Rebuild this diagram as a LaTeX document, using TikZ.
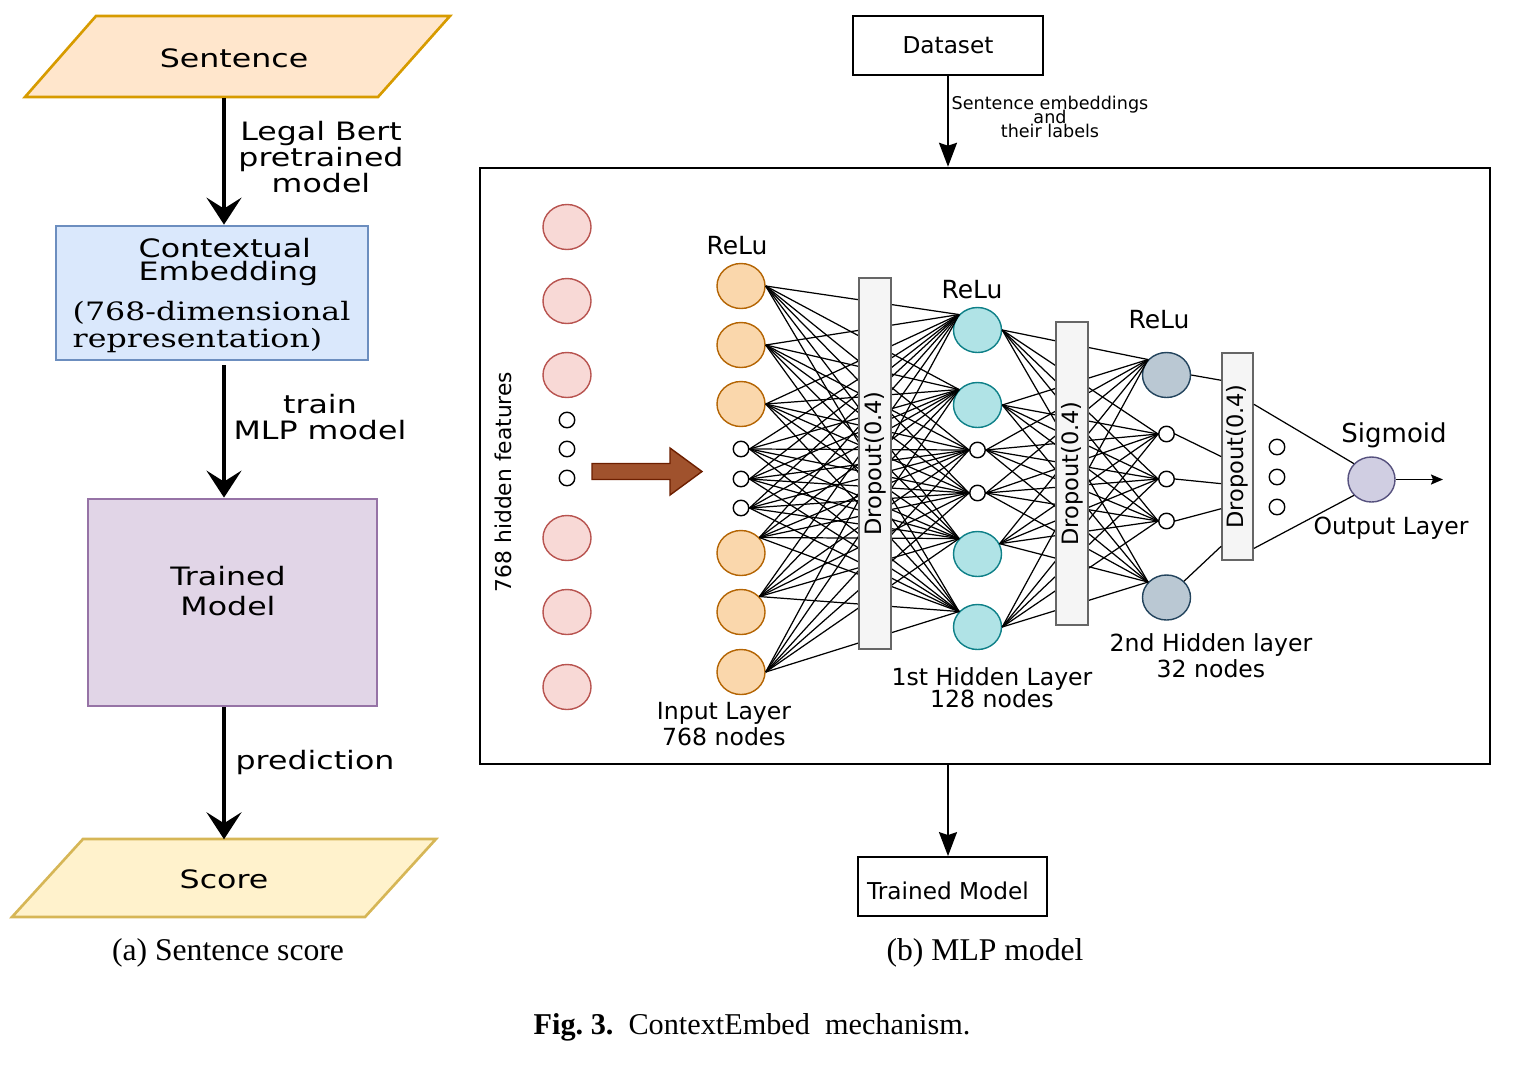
\documentclass[tikz,border=0pt]{standalone}
\usepackage{fontspec}
\setmainfont{DejaVu Sans}
\newfontfamily\widesans{DejaVu Sans}[FakeStretch=1.25]
\newfontfamily\wideserif{DejaVu Serif}[FakeStretch=1.25]
\newfontfamily\capserif{Liberation Serif}
\usetikzlibrary{shapes.geometric, arrows.meta, calc}
\lineskiplimit=-100pt

\definecolor{sentfill}{HTML}{FFE6CC}
\definecolor{sentline}{HTML}{D79B00}
\definecolor{ctxfill}{HTML}{DAE8FC}
\definecolor{ctxline}{HTML}{6C8EBF}
\definecolor{trnfill}{HTML}{E1D5E7}
\definecolor{trnline}{HTML}{9673A6}
\definecolor{scorefill}{HTML}{FFF2CC}
\definecolor{scoreline}{HTML}{D6B656}
\definecolor{pinkfill}{HTML}{F8D9D6}
\definecolor{pinkline}{HTML}{B85450}
\definecolor{orgfill}{HTML}{FAD7AC}
\definecolor{orgline}{HTML}{B46504}
\definecolor{tealfill}{HTML}{B0E3E6}
\definecolor{tealline}{HTML}{0E8088}
\definecolor{greyfill}{HTML}{BAC8D3}
\definecolor{greyline}{HTML}{23445D}
\definecolor{sigfill}{HTML}{D0CEE2}
\definecolor{sigline}{HTML}{56517E}
\definecolor{dropfill}{HTML}{F5F5F5}
\definecolor{dropline}{HTML}{666666}
\definecolor{brownfill}{HTML}{A0522D}
\definecolor{brownline}{HTML}{6D1F00}

\begin{document}
\begin{tikzpicture}[
    x=0.01cm, y=-0.01cm,
    flowtxt/.style={font=\widesans\fontsize{7.2}{7.5}\selectfont, inner sep=0pt},
    iobox/.style={rectangle, inner sep=0pt, flowtxt},
    ioedge/.style={line width=0.75pt},
    procbox/.style={rectangle, draw, line width=0.75pt, inner sep=0pt},
    flow/.style={-{Stealth[length=0.27cm, width=0.35cm, inset=0.11cm]}, line width=0.9pt},
    nntxt/.style={font=\fontsize{6.7}{7.4}\selectfont, align=center, inner sep=0pt},
    neuron/.style={ellipse, draw, line width=0.4pt, inner sep=0pt, minimum width=0.48cm, minimum height=0.45cm},
    dot/.style={circle, draw, fill=white, line width=0.4pt, inner sep=0pt, minimum size=0.155cm},
    link/.style={line width=0.35pt},
    dropbox/.style={rectangle, draw=dropline, fill=dropfill, line width=0.5pt, minimum width=0.32cm, inner sep=0pt, font=\fontsize{6.4}{7}\selectfont},
    plainbox/.style={rectangle, draw, line width=0.5pt, inner sep=0pt, font=\fontsize{6.6}{7}\selectfont},
    dflow/.style={-{Stealth[length=0.24cm, width=0.18cm, inset=0.03cm]}, line width=0.55pt},
    captxt/.style={font=\capserif\fontsize{9}{10}\selectfont, inner sep=0pt}
]
    \useasboundingbox (0,0) rectangle (1518,1066);

    % (a) sentence score
    \draw[ioedge, fill=sentfill, draw=sentline] (96,16) -- (450,16) -- (378,97) -- (25,97) -- cycle;
    \node[iobox, minimum width=3.54cm, minimum height=0.81cm] (sent) at (237.5,56.5) {};
    \node[flowtxt] (sentt) at (234,58.5) {Sentence};
    \node[procbox, fill=ctxfill, draw=ctxline, minimum width=3.12cm, minimum height=1.34cm] (ctx) at (212,293) {};
    \node[flowtxt, anchor=west, align=left, font=\widesans\fontsize{7.2}{6.8}\selectfont] (ctxt) at (138,262) {Contextual\\Embedding};
    \node[anchor=west, align=left, inner sep=0pt, font=\wideserif\fontsize{7.2}{7.4}\selectfont] (ctxr) at (72,327) {(768-dimensional\\representation)};
    \node[procbox, fill=trnfill, draw=trnline, minimum width=2.89cm, minimum height=2.07cm] (trn) at (232.5,602.5) {};
    \node[flowtxt, align=center, font=\widesans\fontsize{7.2}{8.3}\selectfont] (trnt) at (228,591) {Trained\\Model};
    \draw[ioedge, fill=scorefill, draw=scoreline] (83,839) -- (436,839) -- (365,917) -- (12,917) -- cycle;
    \node[iobox, minimum width=3.53cm, minimum height=0.78cm] (score) at (224,879) {Score};

    \draw[flow] (sent.south -| score.north) -- (ctx.north -| score.north);
    \draw[flow] ($(ctx.south -| score.north)+(0,4)$) -- (trn.north -| score.north);
    \draw[flow] (trn.south -| score.north) -- (score.north);
    \node[flowtxt, align=center] (lbert) at (321,157) {Legal Bert\\pretrained\\model};
    \node[flowtxt, align=center] (ltrain) at (320,417) {train\\MLP model};
    \node[flowtxt] (lpred) at (315,762) {prediction};

    % (b) MLP model
    \node[plainbox, minimum width=1.9cm, minimum height=0.59cm] (data) at (948,45.5) {Dataset};
    \node[draw, line width=0.6pt, minimum width=10.1cm, minimum height=5.96cm, inner sep=0pt] (mlp) at (985,466) {};
    \node[plainbox, minimum width=1.89cm, minimum height=0.59cm] (tmod) at (952.5,886.5) {};
    \node[font=\fontsize{6.6}{7}\selectfont, inner sep=0pt] (tmodt) at (948,891) {Trained Model};
    \draw[dflow] (data.south) -- (data.south |- mlp.north);
    \draw[dflow] (data.south |- mlp.south) -- (data.south |- tmod.north);
    \node[font=\fontsize{5}{4.1}\selectfont, align=center, inner sep=0pt] (dlab) at (1050,117) {Sentence embeddings\\and\\their labels};

    % hidden features
    \foreach \p/\y in {1/227,2/301,3/375,4/538,5/612,6/687}
        \node[neuron, fill=pinkfill, draw=pinkline] (p\p) at (567,\y) {};
    \foreach \p/\y in {1/420,2/449,3/478}
        \node[dot] (pd\p) at (567,\y) {};
    \node[rotate=90, font=\fontsize{6.2}{7}\selectfont, inner sep=0pt] (feat) at (503,482) {768 hidden features};
    \draw[fill=brownfill, draw=brownline, line width=0.4pt]
        (592,463.5) -- (670,463.5) -- (670,448) -- (702,471.5) -- (670,495) -- (670,479.5) -- (592,479.5) -- cycle;

    % layers
    \foreach \p/\y in {1/286,2/345,3/404,7/553,8/612,9/672}
        \node[neuron, fill=orgfill, draw=orgline] (i\p) at (741,\y) {};
    \foreach \p/\y in {4/449,5/479,6/508}
        \node[dot] (i\p) at (741,\y) {};
    \foreach \p/\y in {1/330,2/405,5/554,6/627}
        \node[neuron, fill=tealfill, draw=tealline] (h\p) at (977.5,\y) {};
    \foreach \p/\y in {3/450,4/493}
        \node[dot] (h\p) at (977.5,\y) {};
    \foreach \p/\y in {1/375,5/597.5}
        \node[neuron, fill=greyfill, draw=greyline] (s\p) at (1166.5,\y) {};
    \foreach \p/\y in {2/434,3/479,4/521}
        \node[dot] (s\p) at (1166.5,\y) {};
    \foreach \p/\y in {1/447,2/477,3/507}
        \node[dot] (od\p) at (1277,\y) {};
    \node[neuron, fill=sigfill, draw=sigline, minimum width=0.47cm] (sig) at (1371.5,479.5) {};
    \coordinate (outend) at (1443,479.5);

    % connections
    \foreach \p/\pa in {1/0,2/0,3/0,4/0,5/0,6/0,7/40,8/40,9/0}
        \foreach \q/\qa in {1/140,2/140,3/180,4/180,5/140,6/140}
            \draw[link] (i\p.\pa) -- (h\q.\qa);
    \foreach \p/\pa in {1/0,2/0,3/0,4/0,5/25,6/0}
        \foreach \q/\qa in {1/140,2/180,3/180,4/180,5/140}
            \draw[link] (h\p.\pa) -- (s\q.\qa);

    \node[dropbox, minimum height=3.71cm] (d1) at (875,463.5) {\rotatebox{90}{Dropout(0.4)}};
    \node[dropbox, minimum height=3.03cm] (d2) at (1072,473.5) {\rotatebox{90}{Dropout(0.4)}};
    \node[dropbox, minimum height=2.07cm, minimum width=0.31cm] (d3) at (1237.5,456.5) {\rotatebox{90}{Dropout(0.4)}};

    \draw[link] (s1.east) -- ($(d3.north west)!0.135!(d3.south west)$);
    \draw[link] (s2.east) -- ($(d3.north west)!0.50!(d3.south west)$);
    \draw[link] (s3.east) -- ($(d3.north west)!0.63!(d3.south west)$);
    \draw[link] (s4.east) -- ($(d3.north west)!0.75!(d3.south west)$);
    \draw[link] (s5.43) -- ($(d3.north west)!0.93!(d3.south west)$);
    \draw[link] ($(d3.north east)!0.25!(d3.south east)$) -- (sig.138);
    \draw[link] ($(d3.north east)!0.94!(d3.south east)$) -- (sig.222);
    \draw[-{Stealth[length=0.12cm, width=0.1cm, inset=0.02cm]}, line width=0.5pt] (sig.east) -- (outend);

    % labels
    \node[nntxt, font=\fontsize{7.1}{8}\selectfont] (relu1) at (737,246) {ReLu};
    \node[nntxt, font=\fontsize{7.1}{8}\selectfont] (relu2) at (972,290) {ReLu};
    \node[nntxt, font=\fontsize{7.1}{8}\selectfont] (relu3) at (1159,320) {ReLu};
    \node[nntxt, font=\fontsize{7.4}{8}\selectfont] (lsig) at (1394,435) {Sigmoid};
    \node[nntxt] (lout) at (1391,528) {Output Layer};
    \node[nntxt] (lin) at (724,724) {Input Layer\\768 nodes};
    \node[nntxt, font=\fontsize{6.7}{6.3}\selectfont] (lh1) at (992,688) {1st Hidden Layer\\128 nodes};
    \node[nntxt] (lh2) at (1211,656) {2nd Hidden layer\\32 nodes};

    % captions
    \node[captxt] (capa) at (228,953) {(a) Sentence score};
    \node[captxt] (capb) at (985,953) {(b) MLP model};
    \node[captxt, font=\capserif\fontsize{8.6}{10}\selectfont] (capfig) at (752,1027) {\textbf{Fig.~3.}\enspace ContextEmbed\enspace mechanism.};
\end{tikzpicture}
\end{document}
